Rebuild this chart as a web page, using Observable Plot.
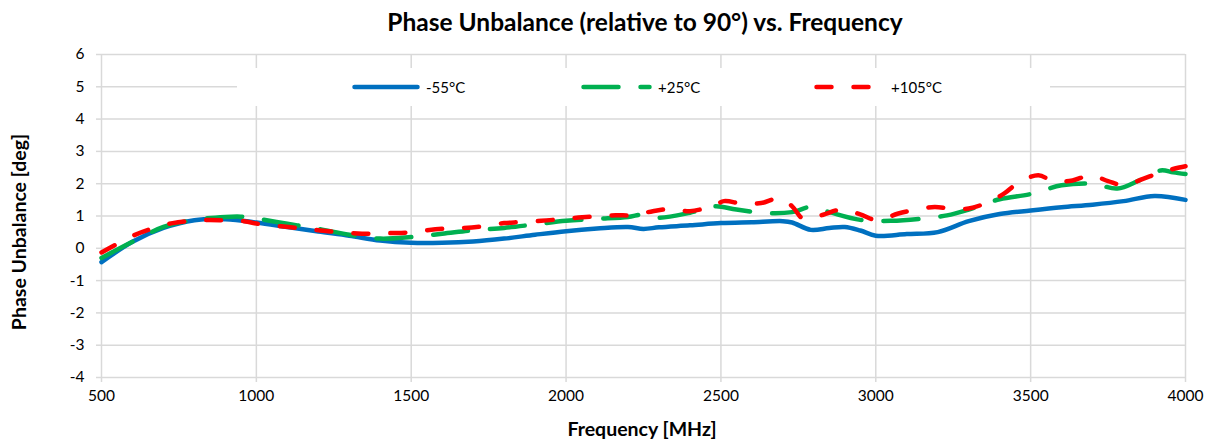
<!DOCTYPE html>
<html>
<head>
<meta charset="utf-8">
<script src="https://cdn.jsdelivr.net/npm/d3@7"></script>
<script src="https://cdn.jsdelivr.net/npm/@observablehq/plot@0.6"></script>
<style>
  html, body { margin: 0; padding: 0; background: #fff; }
  #wrap { position: relative; width: 1209px; height: 442px; overflow: hidden; font-family: Lato, "Open Sans", sans-serif; color: #000; }
  #title { position: absolute; left: 645px; top: 21px; transform: translate(-50%, -50%); white-space: nowrap; font-weight: bold; font-size: 24.5px; }
  #ylab { position: absolute; left: 18px; top: 232px; transform: translate(-50%, -50%) rotate(-90deg); white-space: nowrap; font-weight: bold; font-size: 19.5px; }
  #xlab { position: absolute; left: 642px; top: 428px; transform: translate(-50%, -50%); white-space: nowrap; font-weight: bold; font-size: 19.5px; }
  #legend { position: absolute; left: 237px; top: 68px; width: 813px; height: 38px; background: #fff; }
  .item { position: absolute; top: 0; height: 38px; display: flex; align-items: center; font-size: 15px; }
  .item svg { display: block; }
</style>
</head>
<body>
<div id="wrap">
  <div id="chart"></div>
  <div id="title">Phase Unbalance (relative to 90°) vs. Frequency</div>
  <div id="ylab">Phase Unbalance [deg]</div>
  <div id="xlab">Frequency [MHz]</div>
  <div id="legend"></div>
</div>
<script>
const xTicks = [500, 1000, 1500, 2000, 2500, 3000, 3500, 4000];
const yTicks = [-4, -3, -2, -1, 0, 1, 2, 3, 4, 5, 6];
const seriesNames = ["-55°C", "+25°C", "+105°C"];
const seriesColors = ["#0070C0", "#00B050", "#FF0000"];
const seriesDash = [null, "35,22", "15,22"];

const freqM55 = [500, 600, 700, 800, 900, 1000, 1100, 1200, 1300, 1400, 1500, 1600, 1700, 1800, 1900, 2000, 2100, 2200, 2250, 2300, 2400, 2500, 2600, 2700, 2730, 2790, 2850, 2900, 2950, 3000, 3100, 3200, 3300, 3400, 3500, 3600, 3700, 3800, 3900, 4000];
const valM55 = [-0.43, 0.2, 0.63, 0.87, 0.9, 0.8, 0.66, 0.52, 0.39, 0.24, 0.17, 0.17, 0.21, 0.3, 0.42, 0.53, 0.61, 0.66, 0.6, 0.65, 0.71, 0.78, 0.81, 0.84, 0.8, 0.57, 0.63, 0.66, 0.55, 0.39, 0.44, 0.5, 0.84, 1.06, 1.17, 1.27, 1.35, 1.46, 1.62, 1.5];

const freqP25 = [500, 600, 700, 800, 900, 950, 1000, 1100, 1200, 1300, 1400, 1500, 1600, 1700, 1800, 1900, 2000, 2100, 2200, 2250, 2300, 2400, 2480, 2550, 2650, 2730, 2790, 2850, 2950, 3050, 3150, 3230, 3300, 3400, 3500, 3600, 3700, 3780, 3850, 3920, 3960, 4000];
const valP25 = [-0.3, 0.2, 0.66, 0.88, 0.97, 0.98, 0.92, 0.76, 0.6, 0.42, 0.3, 0.35, 0.45, 0.56, 0.63, 0.74, 0.85, 0.91, 0.97, 1.05, 0.95, 1.1, 1.3, 1.2, 1.09, 1.12, 1.28, 1.12, 0.88, 0.85, 0.92, 1.02, 1.2, 1.52, 1.68, 1.95, 2.0, 1.85, 2.1, 2.41, 2.35, 2.3];

const freqP105 = [500, 600, 660, 730, 800, 850, 900, 960, 1010, 1080, 1150, 1200, 1250, 1310, 1370, 1430, 1490, 1550, 1610, 1670, 1730, 1800, 1850, 1920, 1980, 2040, 2100, 2160, 2220, 2280, 2340, 2400, 2480, 2510, 2570, 2630, 2690, 2730, 2760, 2780, 2830, 2890, 2950, 3005, 3070, 3125, 3190, 3240, 3300, 3360, 3415, 3460, 3525, 3575, 3635, 3695, 3750, 3805, 3865, 3925, 3980, 4000];
const valP105 = [-0.13, 0.38, 0.6, 0.78, 0.86, 0.88, 0.86, 0.84, 0.75, 0.68, 0.61, 0.56, 0.51, 0.47, 0.45, 0.47, 0.49, 0.56, 0.61, 0.63, 0.68, 0.78, 0.81, 0.85, 0.9, 0.95, 0.99, 1.02, 1.03, 1.15, 1.22, 1.15, 1.33, 1.46, 1.38, 1.4, 1.55, 1.3, 0.95, 0.92, 1.04, 1.2, 1.05, 0.87, 1.07, 1.19, 1.28, 1.23, 1.23, 1.42, 1.7, 2.03, 2.26, 2.07, 2.1, 2.26, 2.08, 1.95, 2.16, 2.36, 2.5, 2.54];

const seriesData = [
  freqM55.map((f, i) => ({f, v: valM55[i]})),
  freqP25.map((f, i) => ({f, v: valP25[i]})),
  freqP105.map((f, i) => ({f, v: valP105[i]}))
];

const gridColor = "#d9d9d9";

const lineMarks = seriesData.map((d, i) => Plot.line(d, {
  x: "f", y: "v",
  stroke: seriesColors[i],
  strokeWidth: 4.5,
  strokeLinecap: "round",
  strokeLinejoin: "round",
  strokeDasharray: seriesDash[i] || undefined,
  curve: "catmull-rom"
}));

const chart = Plot.plot({
  width: 1209,
  height: 442,
  marginLeft: 101,
  marginRight: 24,
  marginTop: 54,
  marginBottom: 65,
  style: { fontFamily: "Lato, 'Open Sans', sans-serif", fontSize: "15.5px", color: "#000", background: "transparent" },
  x: { domain: [500, 4000], label: null },
  y: { domain: [-4, 6], label: null },
  marks: [
    Plot.gridX(xTicks, { stroke: gridColor, strokeOpacity: 1, strokeWidth: 1.5 }),
    Plot.gridY(yTicks, { stroke: gridColor, strokeOpacity: 1, strokeWidth: 1.5 }),
    Plot.axisX({ ticks: xTicks, tickSize: 5, tickPadding: 7, stroke: gridColor, strokeWidth: 1.5, strokeOpacity: 1, fill: "#000", tickFormat: d => String(d), label: null }),
    Plot.axisY({ ticks: yTicks, tickSize: 5, tickPadding: 12, stroke: gridColor, strokeWidth: 1.5, strokeOpacity: 1, fill: "#000", tickFormat: d => String(d), label: null }),
    ...lineMarks
  ]
});
document.getElementById("chart").appendChild(chart);

// legend (HTML overlay inside plot area, white box)
const legend = document.getElementById("legend");
const legendLeft = [352 - 237, 581 - 237, 814 - 237];
const legendLen = [68, 71, 58];
seriesNames.forEach((name, i) => {
  const item = document.createElement("div");
  item.className = "item";
  item.style.left = legendLeft[i] + "px";
  const w = legendLen[i];
  const dash = seriesDash[i] ? `stroke-dasharray="${seriesDash[i]}"` : "";
  item.innerHTML = `<svg width="${w}" height="8"><line x1="2.5" y1="4" x2="${w - 2.5}" y2="4" stroke="${seriesColors[i]}" stroke-width="4.5" stroke-linecap="round" ${dash}/></svg><span style="margin-left:${i === 2 ? 19 : 6}px">${name}</span>`;
  legend.appendChild(item);
});
</script>
</body>
</html>
